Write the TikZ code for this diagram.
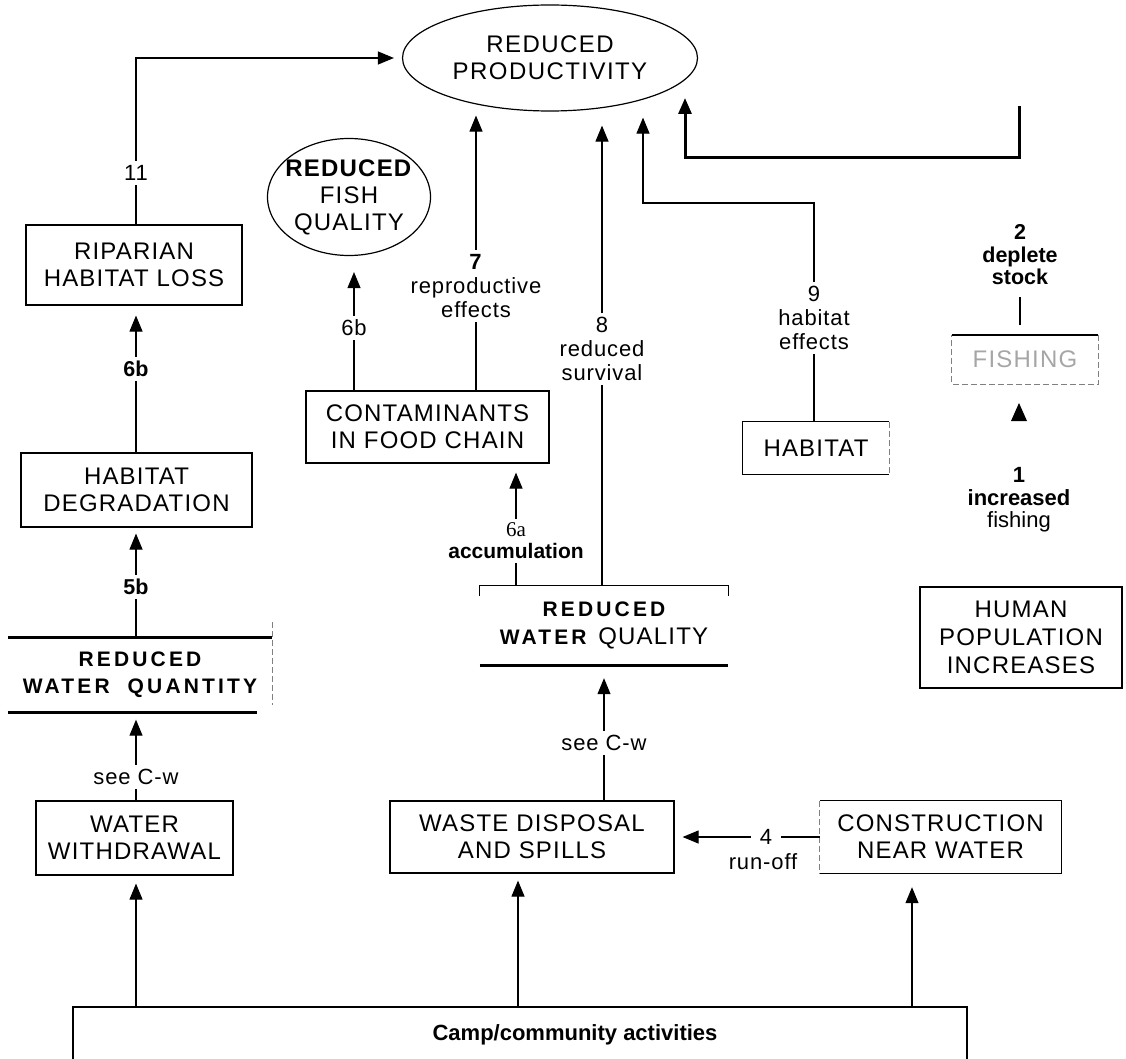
\documentclass[tikz,border=0pt]{standalone}
\usepackage{fontspec}
\setmainfont{Liberation Sans}
\newfontfamily\serifnum{Liberation Serif}
\usetikzlibrary{arrows.meta,shapes.geometric}

\newcommand\boxtext{\fontsize{24}{27}\selectfont\addfontfeature{LetterSpace=5}}
\newcommand\lbltext{\fontsize{22}{24}\selectfont\addfontfeature{LetterSpace=4}}
\newcommand\boldlbl{\fontsize{21.5}{22.5}\selectfont\bfseries}
\newcommand\spacedbold{\fontsize{21}{27}\selectfont\bfseries\addfontfeature{LetterSpace=15}}

\begin{document}
\begin{tikzpicture}[x=1pt,y=-1pt,
  box/.style={draw, line width=1.2pt, inner sep=0pt, align=center, font=\boxtext},
  oval/.style={ellipse, draw, line width=1.2pt, inner sep=0pt, align=center, font=\boxtext},
  bare/.style={inner sep=0pt, align=center, font=\boxtext},
  lbl/.style={inner sep=4pt, align=center, font=\lbltext},
  link/.style={line width=1.1pt},
  arr/.style={link, -{Triangle[length=16pt,width=13pt]}},
  heavy/.style={line width=3pt},
  faint/.style={line width=0.8pt, gray, dash pattern=on 6pt off 3pt},
]
\useasboundingbox (0,0) rectangle (1126,1059);

% ---- outcome ovals
\node[oval, minimum width=295pt, minimum height=106pt,
      font=\fontsize{24}{27}\selectfont\addfontfeature{LetterSpace=6}] (prod) at (550,58) {REDUCED\\PRODUCTIVITY};
\node[oval, minimum width=163pt, minimum height=117pt, inner sep=-14pt] (fish) at (349,197)
      {\textbf{REDUCED}\\FISH\\QUALITY};

% ---- left column
\node[box, minimum width=216pt, minimum height=80pt] (ripar) at (134,265) {RIPARIAN\\HABITAT LOSS};
\node[box, minimum width=231pt, minimum height=74pt] (habdeg) at (136.5,490) {HABITAT\\DEGRADATION};
\node[bare, minimum width=264pt, minimum height=75pt, font=\spacedbold] (rwq) at (140,675)
      {REDUCED\\WATER\ \ QUANTITY};
\draw[heavy] (rwq.north west) -- (rwq.north east);
\draw[heavy] (rwq.south west) -- ([xshift=-15pt]rwq.south east);
\draw[faint] ([yshift=15pt]rwq.north east) -- ([yshift=7.5pt]rwq.south east);
\node[box, minimum width=197pt, minimum height=74pt] (withdraw) at (134.5,838) {WATER\\WITHDRAWAL};

% ---- middle column
\node[box, minimum width=243pt, minimum height=72pt] (contam) at (427.5,427) {CONTAMINANTS\\IN FOOD CHAIN};
\node[bare, minimum width=248pt, minimum height=79pt, font=\fontsize{21}{28}\selectfont] (rwql) at (604,625.5)
      {{\spacedbold REDUCED}\\{\spacedbold WATER}\ \ {\boxtext QUALITY}};
\draw[link] ([yshift=-10pt]rwql.north west) -- (rwql.north west) -- (rwql.north east) -- ([yshift=-10pt]rwql.north east);
\draw[heavy] (rwql.south west) -- (rwql.south east);
\node[box, minimum width=284pt, minimum height=72pt] (waste) at (532,837) {WASTE DISPOSAL\\AND SPILLS};

% ---- right side
\node[bare, minimum width=146pt, minimum height=52pt] (habitat) at (816,448) {HABITAT};
\draw[link] (habitat.north east) -- (habitat.north west) -- (habitat.south west) -- (habitat.south east);
\draw[faint] (habitat.north east) -- (habitat.south east);

\node[bare, minimum width=146pt, minimum height=49pt, text=gray!70] (fishing) at (1025,359.5) {FISHING};
\draw[line width=1.8pt] (fishing.north west) -- (fishing.north east);
\draw[faint] (fishing.north east) -- (fishing.south east) -- (fishing.south west) -- (fishing.north west);

\node[box, minimum width=202pt, minimum height=101pt, font=\fontsize{24}{28}\selectfont\addfontfeature{LetterSpace=5}] (human) at (1021,637.5)
      {HUMAN\\POPULATION\\INCREASES};

\node[bare, minimum width=241pt, minimum height=72pt] (constr) at (940.5,837) {CONSTRUCTION\\NEAR WATER};
\draw[link] (constr.north west) -- (constr.north east) -- (constr.south east) -- (constr.south west);
\draw[faint] (constr.north west) -- (constr.south west);

% ---- base box, open at the bottom
\node[bare, font=\fontsize{22}{24}\selectfont\bfseries] (camp) at (575,1035) {Camp/community activities};
\coordinate (campSW) at (73,1059);
\coordinate (campNW) at (73,1007);
\coordinate (campNE) at (967,1007);
\coordinate (campSE) at (967,1059);
\draw[line width=2pt] (campSW) -- (campNW) -- (campNE) -- (campSE);

% ---- connector labels
\node[lbl] (n11) at (136,173) {11};
\node[lbl, font=\boldlbl] (n6b) at (136,369) {6b};
\node[lbl, font=\boldlbl] (n5b) at (136,587) {5b};
\node[lbl] (nsee1) at (136,777) {see C-w};
\node[lbl] (n6bb) at (354,328) {6b};
\node[lbl] (n7) at (476,286) {\textbf{7}\\reproductive\\effects};
\node[lbl] (n8) at (602,349) {8\\reduced\\survival};
\node[lbl] (n9) at (814,318) {9\\habitat\\effects};
\node[lbl, font=\fontsize{21}{22}\selectfont] (n6a) at (516,541) {{\serifnum 6a}\\\textbf{accumulation}};
\node[lbl, font=\boldlbl] (n2) at (1020,255) {2\\deplete\\stock};
\node[lbl, font=\fontsize{22}{22.5}\selectfont] (n1) at (1019,500) {\textbf{1}\\\textbf{increased}\\fishing};
\node[lbl] (nsee2) at (604,743) {see C-w};
\node[lbl, inner xsep=9pt] (n4) at (766,837) {4};
\node[lbl] (nrun) at (763,862) {run-off};

% ---- connectors
\draw[link] (n11 |- ripar.north) -- (n11);
\draw[arr, shorten >=8pt] (n11) |- (prod.west);

\draw[link] (n6b |- habdeg.north) -- (n6b);
\draw[arr, shorten >=10pt] (n6b) -- (n6b |- ripar.south);

\draw[link] (n5b |- rwq.north) -- (n5b);
\draw[arr, shorten >=6pt] (n5b) -- (n5b |- habdeg.south);

\draw[link] (nsee1 |- withdraw.north) -- (nsee1);
\draw[arr, shorten >=7pt] (nsee1) -- (nsee1 |- rwq.south);

\coordinate (c1) at (136,1007);
\coordinate (c2) at (518,1007);
\coordinate (c3) at (912,1007);
\draw[arr, shorten >=8pt] (c1) -- (c1 |- withdraw.south);
\draw[arr, shorten >=7pt] (c2) -- (c2 |- waste.south);
\draw[arr, shorten >=14pt] (c3) -- (c3 |- constr.south);

\draw[link] (constr.west) -- (n4);
\draw[arr, shorten >=8pt] (n4) -- (n4 -| waste.east);

\draw[link] (nsee2 |- waste.north) -- (nsee2);
\draw[arr, shorten >=13pt] (nsee2) -- (nsee2 |- rwql.south);

\draw[link] (n6a |- rwql.north) -- (n6a);
\draw[arr, shorten >=9pt] (n6a) -- (n6a |- contam.south);

\draw[link] (n8 |- rwql.north) -- (n8);
\draw[arr, shorten >=14pt] (n8) -- (n8 |- prod.south);

\draw[link] (n7 |- contam.north) -- (n7);
\draw[arr, shorten >=4pt] (n7) -- (n7 |- prod.south);

\draw[link] (n6bb |- contam.north) -- (n6bb);
\draw[arr, shorten >=16pt] (n6bb) -- (n6bb |- fish.south);

\coordinate (k9) at (643,203);
\draw[link] (n9 |- habitat.north) -- (n9);
\draw[arr, shorten >=6pt] (n9) |- (k9) -- (k9 |- prod.south);

\coordinate (fx) at (1019,106);
\coordinate (fk) at (685,158);
\coordinate (ft) at (685,98);
\draw[heavy, -{Triangle[length=16pt,width=13pt]}] (fx) -- (fx |- fk) -- (fk) -- (ft);

\draw[line width=2pt, shorten <=8pt, shorten >=10pt] (n2.south) -- (n2.south |- fishing.north);

% lone arrowhead under FISHING
\fill (1011,421) -- (1027,421) -- (1019,403) -- cycle;
\end{tikzpicture}
\end{document}
